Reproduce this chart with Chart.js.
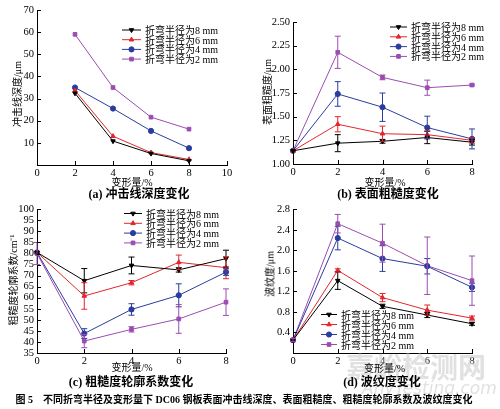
<!DOCTYPE html>
<html>
<head>
<meta charset="utf-8">
<script src="https://cdn.jsdelivr.net/npm/chart.js@4.4.1/dist/chart.umd.min.js"></script>
<style>
  body { margin: 0; background: #fff; }
  #fig { position: relative; width: 500px; height: 409px; overflow: hidden;
         font-family: "Liberation Serif", serif; color: #000; }
  canvas { position: absolute; }
  .zh { font-family: "Noto Sans CJK SC", sans-serif; }
  .cap { position: absolute; font-size: 12px; line-height: 14px; font-weight: bold;
         white-space: nowrap; transform: translateX(-50%); }
  .fig-cap { font-size: 10px; }
  .txt { position: absolute; white-space: nowrap; font-size: 10px; line-height: 12px; }
  .mid { transform: translate(-50%, -50%); }
  .rot { transform: translate(-50%, -50%) rotate(-90deg); }
  .mark { position: absolute; white-space: nowrap; color: rgba(200,200,200,0.55);
          font-family: "Noto Sans CJK SC", sans-serif; }
</style>
</head>
<body>
<div id="fig">
  <canvas id="cA" width="250" height="190" style="left:0;top:0"></canvas>
  <canvas id="cB" width="250" height="190" style="left:250px;top:0"></canvas>
  <canvas id="cC" width="250" height="175" style="left:0;top:200px"></canvas>
  <canvas id="cD" width="250" height="175" style="left:250px;top:200px"></canvas>

  <div class="mark" style="left:346px;top:346px;font-size:28px;font-weight:bold">嘉峪检测网</div>
  <div class="mark" style="left:362px;top:378px;font-size:17px;font-style:italic;font-family:'DejaVu Sans',sans-serif">AnyTesting.com</div>
</div>

<script>
var latin = "'Liberation Serif', serif";

var labels = ['折弯半径为8 mm', '折弯半径为6 mm', '折弯半径为4 mm', '折弯半径为2 mm'];
var colors = ['#000000', '#e3262b', '#2a3d9f', '#9c4caf'];
var markers = ['triangle', 'triangle', 'circle', 'rect'];
var turns = [180, 0, 0, 0];

// (a) 冲击线深度
var depthX = [2, 4, 6, 8];
var depth8 = [32.4, 10.8, 5.2, 1.9];
var depth6 = [33.6, 13.0, 5.6, 2.5];
var depth4 = [35.0, 25.5, 15.4, 7.6];
var depth2 = [59.0, 35.0, 21.6, 16.2];

// (b) 表面粗糙度
var strainX = [0, 2, 4, 6, 8];
var rough8 = [1.14, 1.22, 1.24, 1.28, 1.23];
var rough6 = [1.14, 1.42, 1.32, 1.31, 1.25];
var rough4 = [1.14, 1.74, 1.60, 1.385, 1.265];
var rough2 = [1.14, 2.18, 1.915, 1.806, 1.834];
var roughErr8 = [0, 0.09, 0.02, 0.065, 0.03];
var roughErr6 = [0, 0.08, 0.08, 0.04, 0.03];
var roughErr4 = [0, 0.13, 0.15, 0.12, 0.105];
var roughErr2 = [0, 0.17, 0.025, 0.08, 0.01];

// (c) 粗糙度轮廓系数
var prof8 = [80.5, 67.7, 74.6, 72.6, 77.7];
var prof6 = [80.5, 60.8, 66.8, 76.0, 73.6];
var prof4 = [80.5, 43.8, 54.7, 61.1, 71.6];
var prof2 = [80.0, 40.4, 45.7, 50.4, 58.0];
var profErr8 = [0, 5.5, 3.8, 1.0, 3.8];
var profErr6 = [0, 6.0, 1.0, 3.3, 5.0];
var profErr4 = [0, 2.2, 2.6, 5.2, 1.5];
var profErr2 = [5.0, 3.0, 1.2, 6.5, 6.0];

// (d) 波纹度
var wave8 = [0.25, 1.41, 0.91, 0.74, 0.57];
var wave6 = [0.25, 1.61, 1.08, 0.835, 0.68];
var wave4 = [0.25, 2.24, 1.84, 1.69, 1.28];
var wave2 = [0.25, 2.52, 2.14, 1.70, 1.41];
var waveErr8 = [0, 0.17, 0.04, 0.05, 0.03];
var waveErr6 = [0, 0.03, 0.08, 0.10, 0.04];
var waveErr4 = [0, 0.23, 0.25, 0.15, 0.08];
var waveErr2 = [0.03, 0.18, 0.37, 0.56, 0.48];

Chart.defaults.font.family = latin;
Chart.defaults.font.size = 10;
Chart.defaults.color = '#000';

var fig = document.getElementById('fig');

// Chinese runs get the CJK font, the rest stays in the serif
function addText(cls, text, x, y) {
  var d = document.createElement('div');
  d.className = cls;
  text.split(/([\u3000-\u9fff\uff00-\uffef、]+)/).forEach(function (part) {
    if (!part) return;
    if (/[\u3000-\u9fff\uff00-\uffef、]/.test(part)) {
      var s = document.createElement('span');
      s.className = 'zh';
      s.textContent = part;
      d.appendChild(s);
    } else {
      d.appendChild(document.createTextNode(part));
    }
  });
  d.style.left = x + 'px';
  d.style.top = y + 'px';
  fig.appendChild(d);
  return d;
}

// error bars with caps, drawn through the scales
var errorBars = {
  id: 'errorBars',
  afterDatasetsDraw: function (chart) {
    var ctx = chart.ctx, sx = chart.scales.x, sy = chart.scales.y;
    ctx.save();
    ctx.lineWidth = 1;
    chart.data.datasets.forEach(function (ds) {
      if (!ds.err) return;
      ctx.strokeStyle = ds.borderColor;
      ctx.beginPath();
      ds.data.forEach(function (pt, j) {
        var e = ds.err[j];
        if (!e) return;
        var x = sx.getPixelForValue(pt.x);
        var y1 = sy.getPixelForValue(pt.y + e), y2 = sy.getPixelForValue(pt.y - e);
        ctx.moveTo(x, y1); ctx.lineTo(x, y2);
        ctx.moveTo(x - 3, y1); ctx.lineTo(x + 3, y1);
        ctx.moveTo(x - 3, y2); ctx.lineTo(x + 3, y2);
      });
      ctx.stroke();
    });
    ctx.restore();
  }
};

// tick marks pointing into the plot
var innerTicks = {
  id: 'innerTicks',
  afterDraw: function (chart) {
    var ctx = chart.ctx, a = chart.chartArea, sx = chart.scales.x, sy = chart.scales.y;
    ctx.save();
    ctx.strokeStyle = '#000';
    ctx.lineWidth = 1;
    ctx.beginPath();
    sx.ticks.forEach(function (t) {
      var p = Math.round(sx.getPixelForValue(t.value)) + 0.5;
      ctx.moveTo(p, a.bottom); ctx.lineTo(p, a.bottom - 4);
    });
    sy.ticks.forEach(function (t) {
      var p = Math.round(sy.getPixelForValue(t.value)) + 0.5;
      ctx.moveTo(a.left, p); ctx.lineTo(a.left + 4, p);
    });
    ctx.stroke();
    ctx.restore();
  }
};

// legend swatches on the canvas; the labels go in as page text
var keyBox = {
  id: 'keyBox',
  afterDraw: function (chart, args, opts) {
    var ctx = chart.ctx;
    chart.data.datasets.forEach(function (ds, i) {
      var y = opts.y + i * opts.dy;
      ctx.save();
      ctx.strokeStyle = ds.borderColor;
      ctx.fillStyle = ds.backgroundColor;
      ctx.lineWidth = 1;
      ctx.beginPath();
      ctx.moveTo(opts.x, y); ctx.lineTo(opts.x + opts.w, y);
      ctx.stroke();
      if (Chart.helpers && Chart.helpers.drawPoint) {
        Chart.helpers.drawPoint(ctx, { pointStyle: ds.pointStyle, radius: 2.6,
          rotation: ds.pointRotation, borderWidth: 1 }, opts.x + opts.w / 2, y);
      }
      ctx.restore();
    });
  }
};

function makeChart(id, o) {
  var canvas = document.getElementById(id);
  var W = canvas.width, H = canvas.height;
  var left = parseFloat(canvas.style.left), top = parseFloat(canvas.style.top);
  var sets = o.series.map(function (ys, i) {
    return {
      label: labels[i],
      data: o.x.map(function (x, j) { return { x: x, y: ys[j] }; }),
      err: o.errs ? o.errs[i] : null,
      borderColor: colors[i],
      backgroundColor: colors[i],
      borderWidth: 1,
      pointStyle: markers[i],
      pointRotation: turns[i],
      pointRadius: 2.6,
      pointBorderWidth: 1,
      tension: 0,
      clip: false
    };
  });

  labels.forEach(function (t, i) {
    addText('txt', t, left + o.key.x + o.key.w + 4, top + o.key.y + i * o.key.dy - 6);
  });
  addText('txt mid', '变形量/%', left + o.xTitle[0], top + o.xTitle[1]);
  addText('txt rot', o.yTitle, left + o.yTitlePos[0], top + o.yTitlePos[1]);
  addText('cap', o.caption[0], o.caption[1], o.caption[2]);

  return new Chart(canvas, {
    type: 'line',
    data: { datasets: sets },
    options: {
      responsive: false,
      animation: false,
      events: [],
      layout: { padding: { left: 0, top: o.area[1], right: W - o.area[2], bottom: 0 } },
      plugins: { legend: { display: false }, tooltip: { enabled: false }, keyBox: o.key },
      scales: {
        x: {
          type: 'linear', min: 0, max: o.xMax,
          ticks: { stepSize: 2, padding: 2, autoSkip: false, font: { size: 10.5 } },
          grid: { display: false, drawTicks: false },
          border: { color: '#000', width: 1 },
          afterFit: function (s) { s.height = H - o.area[3]; }
        },
        y: {
          min: o.yMin, max: o.yMax,
          ticks: { stepSize: o.yStep, padding: 3, autoSkip: false, font: { size: 10.5 },
                   callback: function (v) { return (o.hideZero && v === 0) ? '' : v.toFixed(o.dec); } },
          grid: { display: false, drawTicks: false },
          border: { color: '#000', width: 1 },
          afterFit: function (s) { s.width = o.area[0]; }
        }
      }
    },
    plugins: [errorBars, innerTicks, keyBox]
  });
}

makeChart('cA', {
  x: depthX, series: [depth8, depth6, depth4, depth2],
  area: [37, 10, 227, 165], xMax: 10, yMin: 0, yMax: 70, yStep: 10, dec: 0, hideZero: true,
  yTitle: '冲击线深度/μm', yTitlePos: [17, 94], xTitle: [132, 182],
  caption: ['(a) 冲击线深度变化', 139, 186],
  key: { x: 122, w: 19, y: 30, dy: 9.7 }
});

makeChart('cB', {
  x: strainX, series: [rough8, rough6, rough4, rough2],
  errs: [roughErr8, roughErr6, roughErr4, roughErr2],
  area: [43, 22, 222, 164], xMax: 8, yMin: 1, yMax: 2.5, yStep: 0.25, dec: 2, hideZero: false,
  yTitle: '表面粗糙度/μm', yTitlePos: [17, 92], xTitle: [135, 182],
  caption: ['(b) 表面粗糙度变化', 388, 186],
  key: { x: 140, w: 17, y: 27, dy: 9.8 }
});

makeChart('cC', {
  x: strainX, series: [prof8, prof6, prof4, prof2],
  errs: [profErr8, profErr6, profErr4, profErr2],
  area: [37, 7, 226, 153], xMax: 8, yMin: 35, yMax: 100, yStep: 5, dec: 0, hideZero: false,
  yTitle: '粗糙度轮廓系数/cm⁻¹', yTitlePos: [13, 80], xTitle: [132, 167],
  caption: ['(c) 粗糙度轮廓系数变化', 131, 374],
  key: { x: 124, w: 18, y: 13.5, dy: 9.8 }
});

makeChart('cD', {
  x: strainX, series: [wave8, wave6, wave4, wave2],
  errs: [waveErr8, waveErr6, waveErr4, waveErr2],
  area: [43, 8, 222, 153], xMax: 8, yMin: 0, yMax: 2.8, yStep: 0.4, dec: 1, hideZero: true,
  yTitle: '波纹度/μm', yTitlePos: [20, 74], xTitle: [134.5, 168],
  caption: ['(d) 波纹度变化', 382, 374],
  key: { x: 71, w: 16, y: 114.5, dy: 10 }
});

addText('cap fig-cap', '图 5　不同折弯半径及变形量下 DC06 钢板表面冲击线深度、表面粗糙度、粗糙度轮廓系数及波纹度变化', 244, 392);
</script>
</body>
</html>
